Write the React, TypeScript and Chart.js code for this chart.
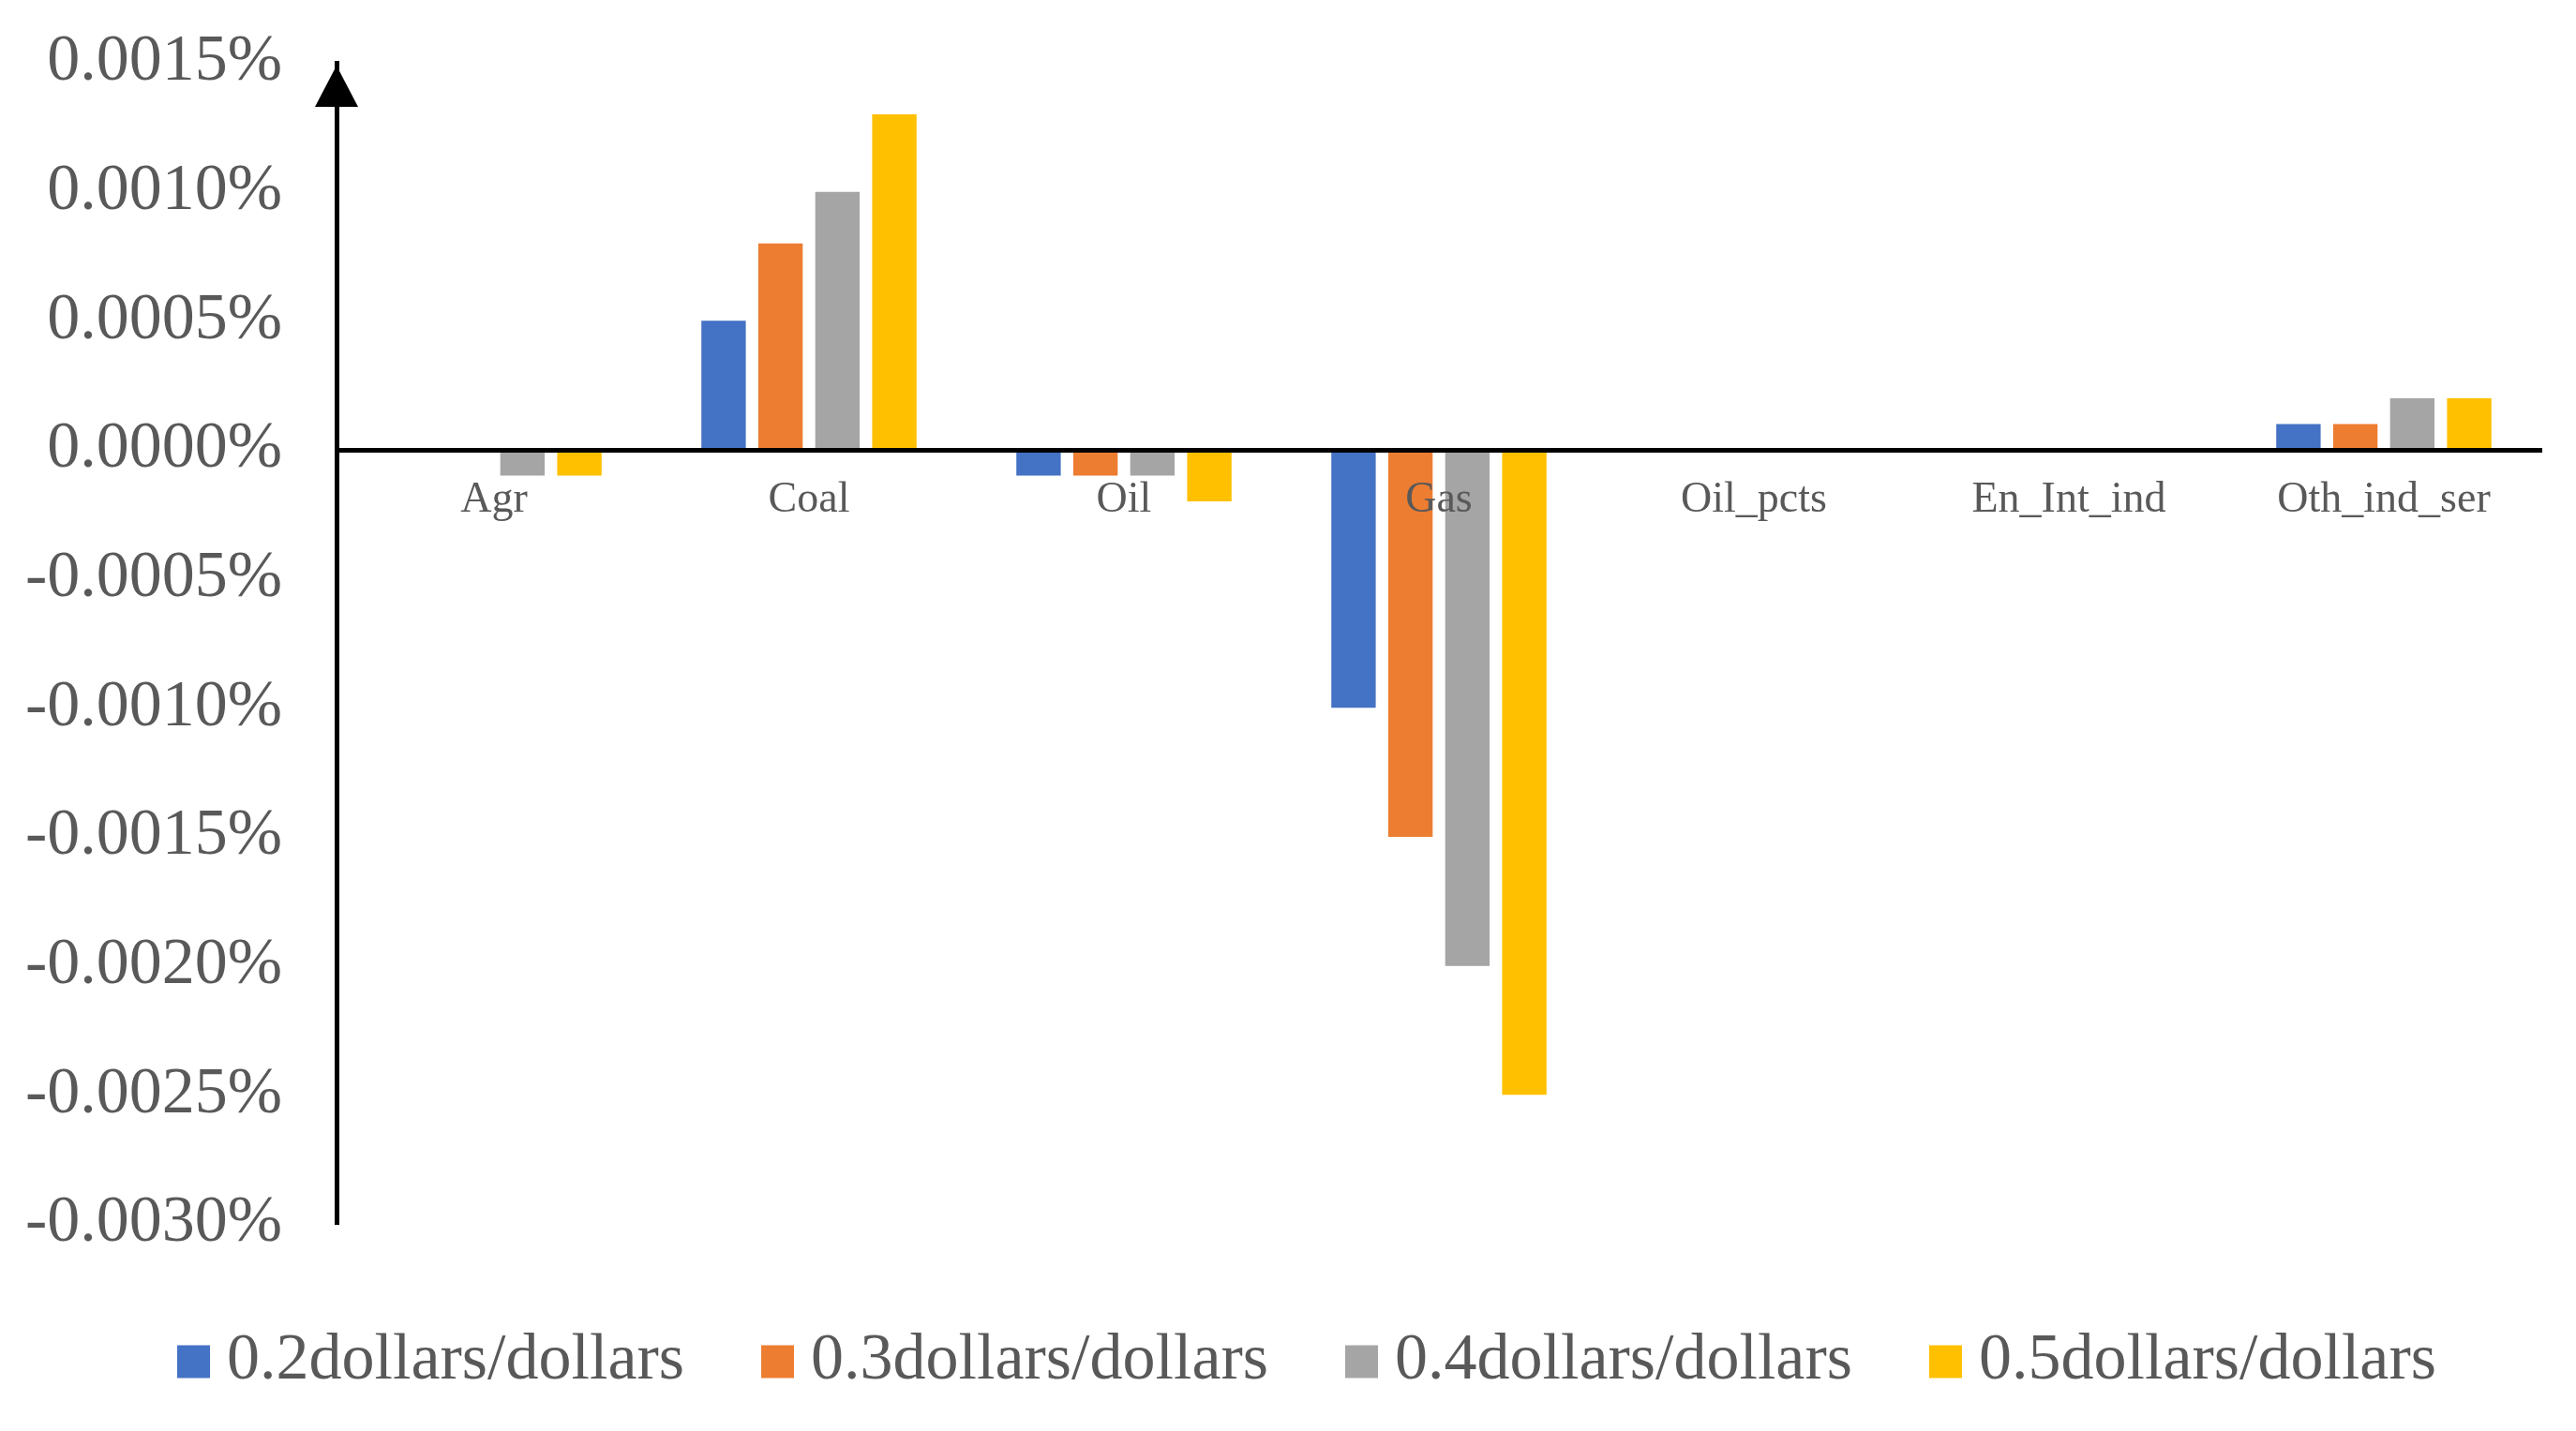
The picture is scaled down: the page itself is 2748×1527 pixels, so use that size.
import React, { useEffect, useRef } from 'react';
import { Chart, registerables } from 'chart.js';

Chart.register(...registerables);

const categories = ['Agr', 'Coal', 'Oil', 'Gas', 'Oil_pcts', 'En_Int_ind', 'Oth_ind_ser'];
const seriesNames = ['0.2dollars/dollars', '0.3dollars/dollars', '0.4dollars/dollars', '0.5dollars/dollars'];
const series02 = [0, 0.0005, -0.0001, -0.001, 0, 0, 0.0001];
const series03 = [0, 0.0008, -0.0001, -0.0015, 0, 0, 0.0001];
const series04 = [-0.0001, 0.001, -0.0001, -0.002, 0, 0, 0.0002];
const series05 = [-0.0001, 0.0013, -0.0002, -0.0025, 0, 0, 0.0002];
const seriesColors = ['#4472C4', '#ED7D31', '#A5A5A5', '#FFC000'];
const yTickValues = [0.0015, 0.001, 0.0005, 0, -0.0005, -0.001, -0.0015, -0.002, -0.0025, -0.003];

const W = 2732;
const H = 1511;
const FONT = '"Liberation Serif", "Times New Roman", serif';
const TEXT = '#595959';
const Y_AXIS_WIDTH = 351;
const LEGEND_SHIFT = 43;

const fmt = (v: number) => {
  const n = Math.abs(v) < 1e-12 ? 0 : v;
  return n.toFixed(4) + '%';
};

const arrowPlugin = {
  id: 'yArrow',
  afterDraw(chart: any) {
    const { ctx, chartArea, scales } = chart;
    const x = chartArea.left;
    const yTop = scales.y.getPixelForValue(scales.y.max);
    ctx.save();
    ctx.fillStyle = '#000';
    ctx.beginPath();
    ctx.moveTo(x, yTop + 3);
    ctx.lineTo(x - 23, yTop + 47);
    ctx.lineTo(x + 23, yTop + 47);
    ctx.closePath();
    ctx.fill();
    ctx.restore();
  },
};

const legendShiftPlugin = {
  id: 'legendShift',
  afterLayout(chart: any) {
    const l = chart.legend;
    if (l) {
      l.left += LEGEND_SHIFT;
      l.right += LEGEND_SHIFT;
    }
  },
};

export default function App() {
  const ref = useRef<HTMLCanvasElement>(null);

  useEffect(() => {
    if (!ref.current) return;
    const all = [series02, series03, series04, series05];
    const chart = new Chart(ref.current, {
      type: 'bar',
      data: {
        labels: categories,
        datasets: all.map((d, i) => ({
          label: seriesNames[i],
          data: d,
          backgroundColor: seriesColors[i],
          borderWidth: 0,
          categoryPercentage: 0.723,
          barPercentage: 0.78,
        })),
      },
      options: {
        responsive: false,
        animation: false,
        layout: { padding: { top: 59, left: 0, right: 29, bottom: 21 } },
        scales: {
          x: {
            position: { y: 0 } as any,
            grid: { display: false, drawTicks: false },
            border: { display: true, color: '#000', width: 5, z: 1 },
            ticks: {
              z: 1,
              padding: 26,
              color: TEXT,
              autoSkip: false,
              maxRotation: 0,
              font: { family: FONT, size: 46 },
            },
          },
          y: {
            min: -0.003,
            max: 0.0015,
            afterBuildTicks: (s: any) => {
              s.ticks = yTickValues.map((v) => ({ value: v }));
            },
            afterFit: (s: any) => {
              s.width = Y_AXIS_WIDTH;
            },
            grid: { display: false, drawTicks: true, tickLength: 58 },
            border: { display: true, color: '#000', width: 5 },
            ticks: {
              padding: 0,
              color: TEXT,
              font: { family: FONT, size: 70 },
              callback: (v: any) => fmt(Number(v)),
            },
          },
        },
        plugins: {
          tooltip: { enabled: false },
          legend: {
            position: 'bottom',
            labels: {
              usePointStyle: true,
              pointStyle: 'rect',
              boxWidth: 1,
              boxHeight: 35,
              padding: 99,
              color: TEXT,
              font: { family: FONT, size: 70 },
            },
            title: { display: true, text: '', padding: 0, font: { size: 13, lineHeight: 1 } },
          },
        },
      },
      plugins: [arrowPlugin, legendShiftPlugin],
    } as any);
    return () => chart.destroy();
  }, []);

  return (
    <div style={{ width: W, height: H }}>
      <canvas ref={ref} width={W} height={H} style={{ display: 'block', width: W, height: H }} />
    </div>
  );
}
